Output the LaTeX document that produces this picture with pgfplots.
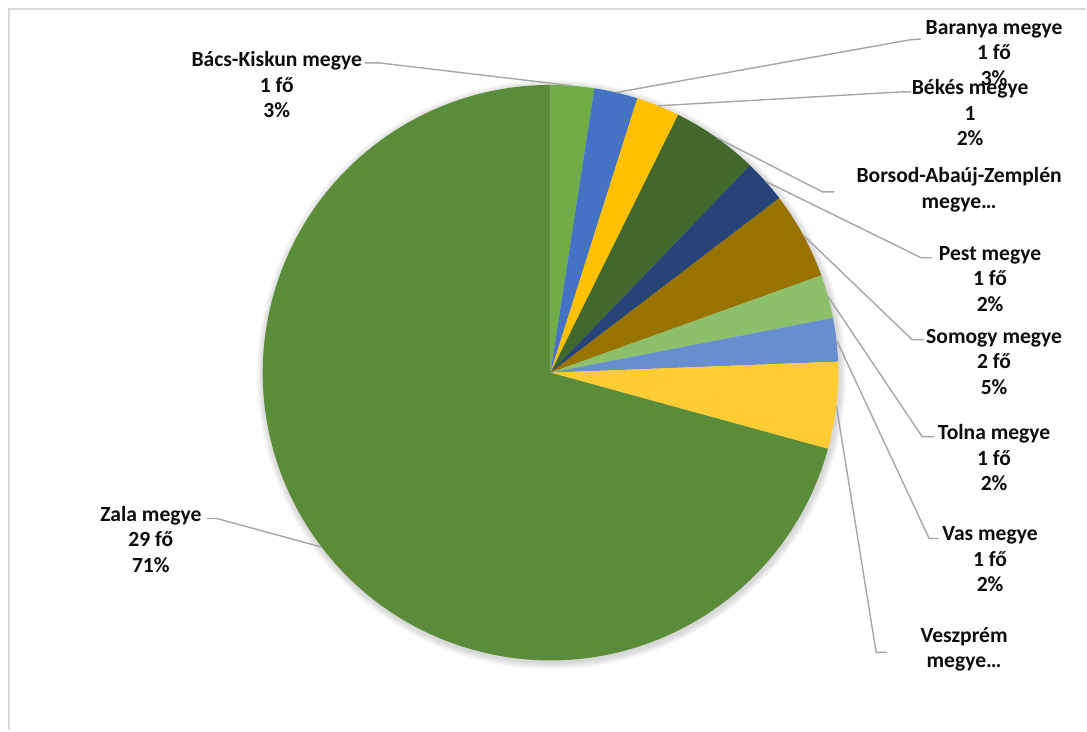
\documentclass[border=0pt]{standalone}
\usepackage{pgfplots}
\usepackage{pgfplotstable}
\pgfplotsset{compat=1.18}
\usepackage{fontspec}
\setmainfont{Carlito}
\definecolor{c0}{HTML}{70AD47}
\definecolor{c1}{HTML}{4472C4}
\definecolor{c2}{HTML}{FFC000}
\definecolor{c3}{HTML}{43682B}
\definecolor{c4}{HTML}{264478}
\definecolor{c5}{HTML}{997300}
\definecolor{c6}{HTML}{8CC06B}
\definecolor{c7}{HTML}{698ED0}
\definecolor{c8}{HTML}{FFCD33}
\definecolor{c9}{HTML}{5B8C39}
\definecolor{leadc}{HTML}{A6A6A6}
\definecolor{borderc}{HTML}{D9D9D9}
\definecolor{txtc}{HTML}{0D0D0D}

\pgfplotstableread[col sep=comma]{
county,count
Bacs-Kiskun,1
Baranya,1
Bekes,1
Borsod-Abauj-Zemplen,2
Pest,1
Somogy,2
Tolna,1
Vas,1
Veszprem,2
Zala,29
}\piedata

\tikzset{
  lbl/.style={align=center,text=txtc,font=\fontsize{21.6}{25.5}\selectfont\bfseries},
  lead/.style={draw=leadc,line width=1.4pt}}

\begin{document}
\begin{tikzpicture}
\pgfplotstablegetrowsof{\piedata}
\pgfmathtruncatemacro{\nlast}{\pgfplotsretval-1}
\xdef\nlast{\nlast}
\gdef\total{0}
\foreach \i in {0,...,\nlast}{%
  \pgfplotstablegetelem{\i}{count}\of\piedata
  \pgfmathsetmacro{\tmpsum}{\total+\pgfplotsretval}%
  \xdef\total{\tmpsum}}
\gdef\cumsum{0}
\foreach \i in {0,...,\nlast}{%
  \pgfplotstablegetelem{\i}{count}\of\piedata
  \pgfmathsetmacro{\sa}{90-360*\cumsum/\total}%
  \pgfmathsetmacro{\nc}{\cumsum+\pgfplotsretval}%
  \pgfmathsetmacro{\ea}{90-360*\nc/\total}%
  \pgfmathsetmacro{\ma}{(\sa+\ea)/2}%
  \expandafter\xdef\csname sa\i\endcsname{\sa}%
  \expandafter\xdef\csname ea\i\endcsname{\ea}%
  \expandafter\xdef\csname ma\i\endcsname{\ma}%
  \xdef\cumsum{\nc}}
\begin{axis}[x=1pt,y=1pt,xmin=0,xmax=1087,ymin=0,ymax=731,
  hide axis,clip=false,scale only axis]
\path (axis cs:0,0) rectangle (axis cs:1087,731);
\draw[borderc,line width=2pt] (axis cs:9,0) -- (axis cs:9,722) -- (axis cs:1087,722);
% soft shadow
\pgfplotsinvokeforeach{1,...,7}{
  \fill[black,opacity=0.022] (axis cs:552,356) circle[radius=288pt+#1pt];
}
% slices
\pgfplotsinvokeforeach{0,...,9}{
  \fill[c#1] (axis cs:551,358) -- ++(\csname sa#1\endcsname:288pt)
    arc[start angle=\csname sa#1\endcsname, end angle=\csname ea#1\endcsname, radius=288pt] -- cycle;
}
% leader lines
\draw[lead] (axis cs:551,358) ++(\csname ma0\endcsname:288pt) -- (axis cs:380,668) -- (axis cs:365,668);
\draw[lead] (axis cs:551,358) ++(\csname ma1\endcsname:288pt) -- (axis cs:910,691) -- (axis cs:922,692);
\draw[lead] (axis cs:551,358) ++(\csname ma2\endcsname:288pt) -- (axis cs:902,639) -- (axis cs:912,639);
\draw[lead] (axis cs:551,358) ++(\csname ma3\endcsname:288pt) -- (axis cs:823,539) -- (axis cs:835,539);
\draw[lead] (axis cs:551,358) ++(\csname ma4\endcsname:288pt) -- (axis cs:922,473) -- (axis cs:933,473);
\draw[lead] (axis cs:551,358) ++(\csname ma5\endcsname:288pt) -- (axis cs:913,391) -- (axis cs:925,391);
\draw[lead] (axis cs:551,358) ++(\csname ma6\endcsname:288pt) -- (axis cs:923,294) -- (axis cs:935,294);
\draw[lead] (axis cs:551,358) ++(\csname ma7\endcsname:288pt) -- (axis cs:930,192) -- (axis cs:940,192);
\draw[lead] (axis cs:551,358) ++(\csname ma8\endcsname:288pt) -- (axis cs:877,78) -- (axis cs:888,78);
\draw[lead] (axis cs:551,358) ++(\csname ma9\endcsname:288pt) -- (axis cs:217,212) -- (axis cs:207,212);
% labels
\node[lbl] at (axis cs:277,646) {Bács-Kiskun megye\\1 fő\\3\%};
\node[lbl] at (axis cs:995,678) {Baranya megye\\1 fő\\3\%};
\node[lbl] at (axis cs:971,618) {Békés megye\\1\\2\%};
\node[lbl] at (axis cs:960,541) {Borsod-Abaúj-Zemplén\\megye…};
\node[lbl] at (axis cs:991,452) {Pest megye\\1 fő\\2\%};
\node[lbl] at (axis cs:995,369) {Somogy megye\\2 fő\\5\%};
\node[lbl] at (axis cs:995,273) {Tolna megye\\1 fő\\2\%};
\node[lbl] at (axis cs:991,171) {Vas megye\\1 fő\\2\%};
\node[lbl] at (axis cs:965,81) {Veszprém\\megye…};
\node[lbl] at (axis cs:151,191) {Zala megye\\29 fő\\71\%};
\end{axis}
\end{tikzpicture}
\end{document}
